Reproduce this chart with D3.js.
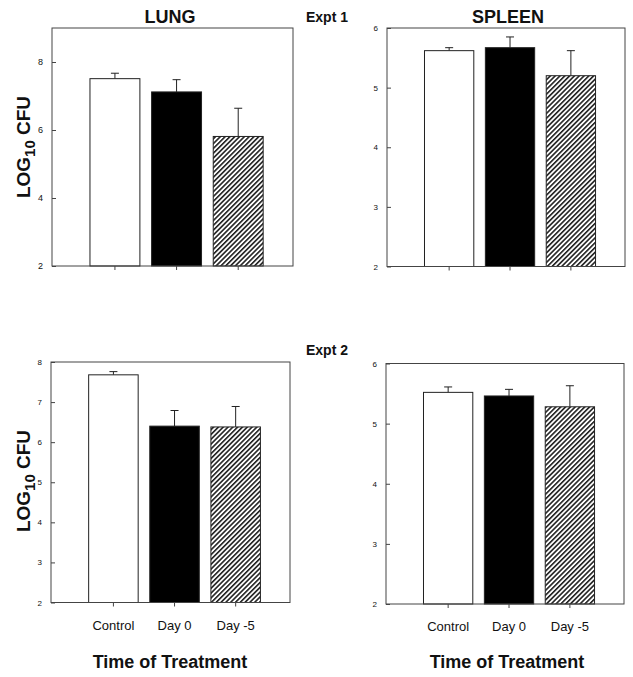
<!DOCTYPE html>
<html>
<head>
<meta charset="utf-8">
<script src="https://cdn.jsdelivr.net/npm/d3@7"></script>
<style>
  body { margin: 0; background: #fff; }
  text { font-family: "Liberation Sans", Arial, sans-serif; fill: #111; }
</style>
</head>
<body>
<div id="chart"></div>
<script>
// Treatment groups (x categories)
const groups = ["Control", "Day 0", "Day -5"];

// Expt 1 means and SE (log10 CFU)
const lungExpt1 = [7.51, 7.12, 5.81];
const lungExpt1Err = [0.16, 0.36, 0.83];
const spleenExpt1 = [5.62, 5.67, 5.20];
const spleenExpt1Err = [0.05, 0.18, 0.42];

// Expt 2 means and SE
const lungExpt2 = [7.68, 6.40, 6.38];
const lungExpt2Err = [0.08, 0.39, 0.51];
const spleenExpt2 = [5.52, 5.46, 5.28];
const spleenExpt2Err = [0.09, 0.11, 0.35];

// y tick values per panel
const lungTicks1 = [2, 4, 6, 8];
const lungTicks2 = [2, 3, 4, 5, 6, 7, 8];
const spleenTicks = [2, 3, 4, 5, 6];

const svg = d3.select('#chart').append('svg')
  .attr('width', 633)
  .attr('height', 677);

// hatch pattern for Day -5 bars
const defs = svg.append('defs');
const pat = defs.append('pattern')
  .attr('id', 'hatch')
  .attr('patternUnits', 'userSpaceOnUse')
  .attr('width', 3.4)
  .attr('height', 3.4)
  .attr('patternTransform', 'rotate(45)');
pat.append('rect').attr('width', 3.4).attr('height', 3.4).attr('fill', '#fff');
pat.append('line')
  .attr('x1', 0.8).attr('y1', 0).attr('x2', 0.8).attr('y2', 3.4)
  .attr('stroke', '#111').attr('stroke-width', 1.5);

const fills = ['#fff', '#000', 'url(#hatch)'];

const panels = [
  { x0: 52, x1: 293, y0: 28, y1: 266, domain: [2, 9], ticks: lungTicks1, tickSize: 9,
    values: lungExpt1, errs: lungExpt1Err, labels: false },
  { x0: 387, x1: 625, y0: 28, y1: 266.5, domain: [2, 6], ticks: spleenTicks, tickSize: 8,
    values: spleenExpt1, errs: spleenExpt1Err, labels: false },
  { x0: 51, x1: 290, y0: 362, y1: 602.5, domain: [2, 8], ticks: lungTicks2, tickSize: 8,
    values: lungExpt2, errs: lungExpt2Err, labels: true },
  { x0: 386, x1: 624, y0: 363.5, y1: 604, domain: [2, 6], ticks: spleenTicks, tickSize: 8,
    values: spleenExpt2, errs: spleenExpt2Err, labels: true }
];

panels.forEach(p => {
  const g = svg.append('g');

  const x = d3.scaleBand()
    .domain(groups)
    .range([p.x0, p.x1])
    .paddingInner(0.19)
    .paddingOuter(0.55)
    .align(0.56);

  const y = d3.scaleLinear()
    .domain(p.domain)
    .range([p.y1, p.y0]);

  const data = groups.map((k, i) => ({ k, i, v: p.values[i], e: p.errs[i] }));

  // error bars (upper only)
  g.selectAll('.err')
    .data(data)
    .enter()
    .append('line')
    .attr('x1', d => x(d.k) + x.bandwidth() / 2)
    .attr('x2', d => x(d.k) + x.bandwidth() / 2)
    .attr('y1', d => y(d.v))
    .attr('y2', d => y(d.v + d.e))
    .attr('stroke', '#222')
    .attr('stroke-width', 1);

  g.selectAll('.cap')
    .data(data)
    .enter()
    .append('line')
    .attr('x1', d => x(d.k) + x.bandwidth() / 2 - 4)
    .attr('x2', d => x(d.k) + x.bandwidth() / 2 + 4)
    .attr('y1', d => y(d.v + d.e))
    .attr('y2', d => y(d.v + d.e))
    .attr('stroke', '#222')
    .attr('stroke-width', 1);

  g.selectAll('.bar')
    .data(data)
    .enter()
    .append('rect')
    .attr('x', d => x(d.k))
    .attr('y', d => y(d.v))
    .attr('width', x.bandwidth())
    .attr('height', d => y(p.domain[0]) - y(d.v))
    .attr('fill', d => fills[d.i])
    .attr('stroke', '#222')
    .attr('stroke-width', 1);

  // frame
  g.append('rect')
    .attr('x', p.x0)
    .attr('y', p.y0)
    .attr('width', p.x1 - p.x0)
    .attr('height', p.y1 - p.y0)
    .attr('fill', 'none')
    .attr('stroke', '#444')
    .attr('stroke-width', 1);

  // y axis, ticks point inward
  const yAxis = d3.axisLeft(y)
    .tickValues(p.ticks)
    .tickSizeInner(-4)
    .tickSizeOuter(0)
    .tickPadding(9)
    .tickFormat(d3.format('d'));
  const ya = g.append('g')
    .attr('transform', `translate(${p.x0},0)`)
    .call(yAxis);
  ya.select('.domain').remove();
  ya.selectAll('line').attr('stroke', '#444');
  ya.selectAll('text')
    .style('font-family', '"Liberation Sans", Arial, sans-serif')
    .style('font-size', p.tickSize + 'px')
    .attr('fill', '#222');

  // x axis, ticks point outward
  const xAxis = d3.axisBottom(x)
    .tickSizeInner(4)
    .tickSizeOuter(0)
    .tickPadding(14);
  const xa = g.append('g')
    .attr('transform', `translate(0,${p.y1})`)
    .call(xAxis);
  xa.select('.domain').remove();
  xa.selectAll('line').attr('stroke', '#444');
  xa.selectAll('text')
    .style('font-family', '"Liberation Sans", Arial, sans-serif')
    .style('font-size', '13px')
    .attr('fill', '#111')
    .style('display', p.labels ? null : 'none');
});

// titles
svg.append('text')
  .attr('x', 170).attr('y', 23)
  .style('text-anchor', 'middle')
  .style('font-size', '18px').style('font-weight', 'bold')
  .text('LUNG');

svg.append('text')
  .attr('x', 508).attr('y', 23)
  .style('text-anchor', 'middle')
  .style('font-size', '18px').style('font-weight', 'bold')
  .text('SPLEEN');

svg.append('text')
  .attr('x', 306).attr('y', 22)
  .style('font-size', '14px').style('font-weight', 'bold')
  .text('Expt 1');

svg.append('text')
  .attr('x', 306).attr('y', 355)
  .style('font-size', '14px').style('font-weight', 'bold')
  .text('Expt 2');

// y-axis labels
[147, 481].forEach(cy => {
  const t = svg.append('text')
    .attr('transform', `translate(30,${cy}) rotate(-90)`)
    .style('text-anchor', 'middle')
    .style('font-size', '19px').style('font-weight', 'bold');
  t.append('tspan').text('LOG');
  t.append('tspan').attr('dy', 5).style('font-size', '15px').text('10');
  t.append('tspan').attr('dy', -5).text(' CFU');
});

// x-axis labels
[170, 507].forEach(cx => {
  svg.append('text')
    .attr('x', cx).attr('y', 668)
    .style('text-anchor', 'middle')
    .style('font-size', '18px').style('font-weight', 'bold')
    .text('Time of Treatment');
});
</script>
</body>
</html>
